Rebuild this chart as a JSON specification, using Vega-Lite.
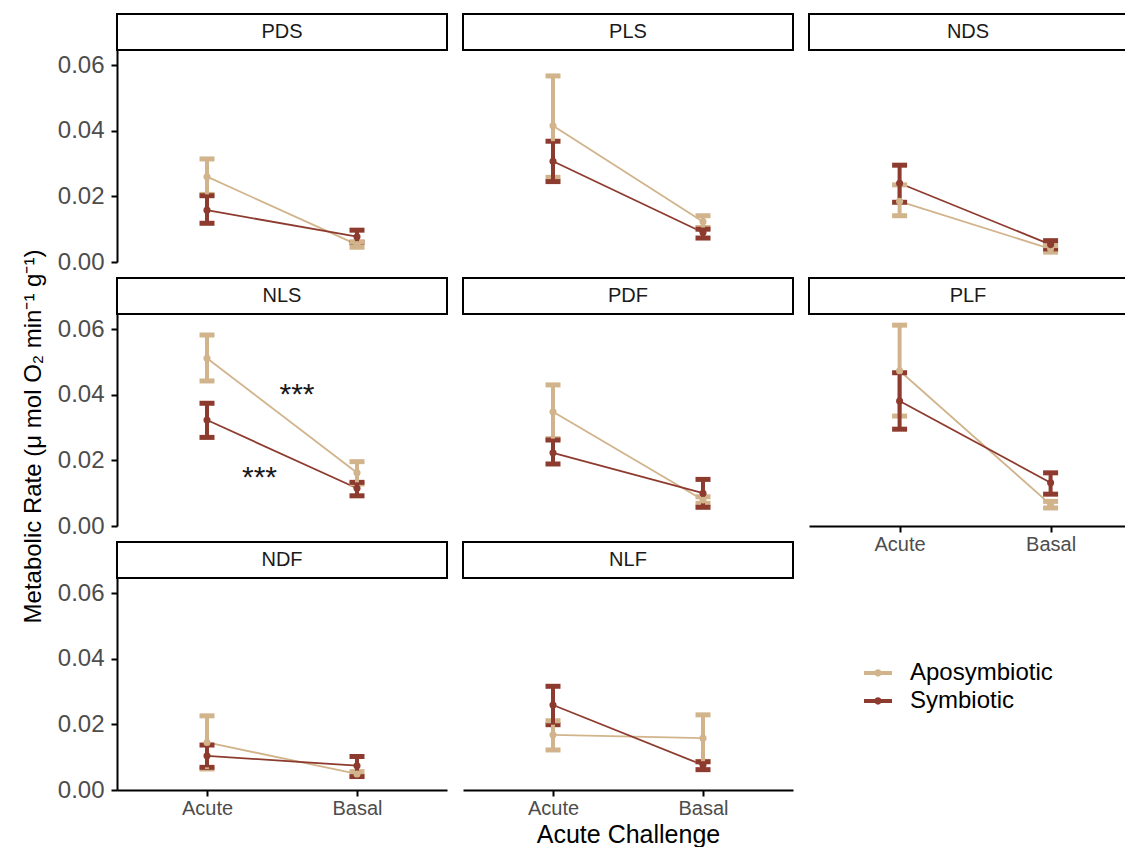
{
  "$schema": "https://vega.github.io/schema/vega-lite/v6.json",
  "padding": {"left": 21, "top": 13, "right": 0, "bottom": 0},
  "background": "white",
  "datasets": {
    "rates": [
      {"panel": "PDS", "group": "Aposymbiotic", "challenge": "Acute", "mean": 0.026, "lo": 0.0206, "hi": 0.0314},
      {"panel": "PDS", "group": "Aposymbiotic", "challenge": "Basal", "mean": 0.0053, "lo": 0.0045, "hi": 0.0061},
      {"panel": "PDS", "group": "Symbiotic", "challenge": "Acute", "mean": 0.0158, "lo": 0.0118, "hi": 0.0202},
      {"panel": "PDS", "group": "Symbiotic", "challenge": "Basal", "mean": 0.0077, "lo": 0.006, "hi": 0.0097},
      {"panel": "PLS", "group": "Aposymbiotic", "challenge": "Acute", "mean": 0.0415, "lo": 0.0258, "hi": 0.0567},
      {"panel": "PLS", "group": "Aposymbiotic", "challenge": "Basal", "mean": 0.0123, "lo": 0.0105, "hi": 0.0141},
      {"panel": "PLS", "group": "Symbiotic", "challenge": "Acute", "mean": 0.0307, "lo": 0.0245, "hi": 0.0368},
      {"panel": "PLS", "group": "Symbiotic", "challenge": "Basal", "mean": 0.009, "lo": 0.0073, "hi": 0.01},
      {"panel": "NDS", "group": "Aposymbiotic", "challenge": "Acute", "mean": 0.0185, "lo": 0.0141, "hi": 0.0235},
      {"panel": "NDS", "group": "Aposymbiotic", "challenge": "Basal", "mean": 0.004, "lo": 0.003, "hi": 0.005},
      {"panel": "NDS", "group": "Symbiotic", "challenge": "Acute", "mean": 0.024, "lo": 0.0182, "hi": 0.0295},
      {"panel": "NDS", "group": "Symbiotic", "challenge": "Basal", "mean": 0.0053, "lo": 0.004, "hi": 0.0065},
      {"panel": "NLS", "group": "Aposymbiotic", "challenge": "Acute", "mean": 0.0511, "lo": 0.0442, "hi": 0.0582},
      {"panel": "NLS", "group": "Aposymbiotic", "challenge": "Basal", "mean": 0.0162, "lo": 0.0128, "hi": 0.0196},
      {"panel": "NLS", "group": "Symbiotic", "challenge": "Acute", "mean": 0.0323, "lo": 0.027, "hi": 0.0374},
      {"panel": "NLS", "group": "Symbiotic", "challenge": "Basal", "mean": 0.0115, "lo": 0.0092, "hi": 0.0133},
      {"panel": "PDF", "group": "Aposymbiotic", "challenge": "Acute", "mean": 0.0348, "lo": 0.0266, "hi": 0.043},
      {"panel": "PDF", "group": "Aposymbiotic", "challenge": "Basal", "mean": 0.0079, "lo": 0.0069, "hi": 0.0089},
      {"panel": "PDF", "group": "Symbiotic", "challenge": "Acute", "mean": 0.0223, "lo": 0.0189, "hi": 0.0262},
      {"panel": "PDF", "group": "Symbiotic", "challenge": "Basal", "mean": 0.01, "lo": 0.0057, "hi": 0.0142},
      {"panel": "PLF", "group": "Aposymbiotic", "challenge": "Acute", "mean": 0.0473, "lo": 0.0335, "hi": 0.0612},
      {"panel": "PLF", "group": "Aposymbiotic", "challenge": "Basal", "mean": 0.0065, "lo": 0.0055, "hi": 0.0075},
      {"panel": "PLF", "group": "Symbiotic", "challenge": "Acute", "mean": 0.0381, "lo": 0.0295, "hi": 0.0467},
      {"panel": "PLF", "group": "Symbiotic", "challenge": "Basal", "mean": 0.0132, "lo": 0.0097, "hi": 0.0162},
      {"panel": "NDF", "group": "Aposymbiotic", "challenge": "Acute", "mean": 0.0145, "lo": 0.0064, "hi": 0.0226},
      {"panel": "NDF", "group": "Aposymbiotic", "challenge": "Basal", "mean": 0.0049, "lo": 0.0042, "hi": 0.0056},
      {"panel": "NDF", "group": "Symbiotic", "challenge": "Acute", "mean": 0.0104, "lo": 0.0069, "hi": 0.0137},
      {"panel": "NDF", "group": "Symbiotic", "challenge": "Basal", "mean": 0.0074, "lo": 0.0041, "hi": 0.0102},
      {"panel": "NLF", "group": "Aposymbiotic", "challenge": "Acute", "mean": 0.0168, "lo": 0.0122, "hi": 0.0211},
      {"panel": "NLF", "group": "Aposymbiotic", "challenge": "Basal", "mean": 0.0158, "lo": 0.0087, "hi": 0.0229},
      {"panel": "NLF", "group": "Symbiotic", "challenge": "Acute", "mean": 0.0259, "lo": 0.0199, "hi": 0.0316},
      {"panel": "NLF", "group": "Symbiotic", "challenge": "Basal", "mean": 0.0076, "lo": 0.0062, "hi": 0.0086}
    ],
    "strips": [
      {"panel": "PDS"}, {"panel": "PLS"}, {"panel": "NDS"},
      {"panel": "NLS"}, {"panel": "PDF"}, {"panel": "PLF"},
      {"panel": "NDF"}, {"panel": "NLF"}
    ],
    "notes": [
      {"panel": "NLS", "nx": 1.6, "ny": 0.0399, "label": "***"},
      {"panel": "NLS", "nx": 1.35, "ny": 0.0147, "label": "***"}
    ],
    "blank": []
  },
  "hconcat": [
    {
      "vconcat": [
        {"width": 330, "height": 36, "data": {"name": "strips"}, "transform": [{"filter": "datum.panel === 'PDS'"}], "view": {"stroke": "black", "strokeWidth": 2, "fill": "white"}, "mark": {"type": "text", "fontSize": 20, "color": "#1a1a1a"}, "encoding": {"text": {"field": "panel"}}},
        {"width": 330, "height": 212, "data": {"name": "rates"},
         "transform": [{"filter": "datum.panel === 'PDS'"}, {"calculate": "datum.challenge === 'Acute' ? 1 : 2", "as": "cx"}],
         "encoding": {"x": {"field": "cx", "type": "quantitative", "scale": {"domain": [0.4, 2.6], "nice": false}, "axis": null}},
         "layer": [
           {"mark": {"type": "line", "strokeWidth": 1.8}, "encoding": {"y": {"field": "mean", "type": "quantitative", "scale": {"domain": [0, 0.0646], "nice": false}, "axis": {"values": [0, 0.02, 0.04, 0.06], "format": ".2f", "title": null}}, "color": {"field": "group", "type": "nominal", "scale": {"domain": ["Aposymbiotic", "Symbiotic"], "range": ["#D2B48C", "#8E3B2F"]}, "legend": {"title": null, "encode": {"symbols": {"update": {"fill": {"scale": "color", "field": "value"}, "stroke": {"scale": "color", "field": "value"}, "strokeWidth": {"value": 0}}}}}}}},
           {"mark": {"type": "errorbar", "orient": "vertical", "thickness": 4, "opacity": 1, "ticks": {"size": 15, "thickness": 5, "opacity": 1}}, "encoding": {"y": {"field": "lo", "type": "quantitative", "scale": {"domain": [0, 0.0646], "nice": false}, "axis": {"values": [0, 0.02, 0.04, 0.06], "format": ".2f", "title": null}}, "y2": {"field": "hi"}, "color": {"field": "group", "type": "nominal", "legend": {"title": null, "encode": {"symbols": {"update": {"fill": {"scale": "color", "field": "value"}, "stroke": {"scale": "color", "field": "value"}, "strokeWidth": {"value": 0}}}}}}}},
           {"mark": {"type": "point", "filled": true, "size": 50, "opacity": 1}, "encoding": {"y": {"field": "mean", "type": "quantitative", "scale": {"domain": [0, 0.0646], "nice": false}, "axis": {"values": [0, 0.02, 0.04, 0.06], "format": ".2f", "title": null}}, "color": {"field": "group", "type": "nominal", "legend": {"title": null, "encode": {"symbols": {"update": {"fill": {"scale": "color", "field": "value"}, "stroke": {"scale": "color", "field": "value"}, "strokeWidth": {"value": 0}}}}}}}}
         ]},
        {"width": 330, "height": 16, "data": {"name": "blank"}, "mark": "point"},
        {"width": 330, "height": 36, "data": {"name": "strips"}, "transform": [{"filter": "datum.panel === 'NLS'"}], "view": {"stroke": "black", "strokeWidth": 2, "fill": "white"}, "mark": {"type": "text", "fontSize": 20, "color": "#1a1a1a"}, "encoding": {"text": {"field": "panel"}}},
        {"width": 330, "height": 212,
         "layer": [
           {"data": {"name": "rates"}, "transform": [{"filter": "datum.panel === 'NLS'"}, {"calculate": "datum.challenge === 'Acute' ? 1 : 2", "as": "cx"}],
            "mark": {"type": "line", "strokeWidth": 1.8}, "encoding": {"x": {"field": "cx", "type": "quantitative", "scale": {"domain": [0.4, 2.6], "nice": false}, "axis": null}, "y": {"field": "mean", "type": "quantitative", "scale": {"domain": [0, 0.0646], "nice": false}, "axis": {"values": [0, 0.02, 0.04, 0.06], "format": ".2f", "title": "Metabolic Rate (μ mol O₂ min⁻¹ g⁻¹)", "titleY": 122}}, "color": {"field": "group", "type": "nominal", "legend": {"title": null, "encode": {"symbols": {"update": {"fill": {"scale": "color", "field": "value"}, "stroke": {"scale": "color", "field": "value"}, "strokeWidth": {"value": 0}}}}}}}},
           {"data": {"name": "rates"}, "transform": [{"filter": "datum.panel === 'NLS'"}, {"calculate": "datum.challenge === 'Acute' ? 1 : 2", "as": "cx"}],
            "mark": {"type": "errorbar", "orient": "vertical", "thickness": 4, "opacity": 1, "ticks": {"size": 15, "thickness": 5, "opacity": 1}}, "encoding": {"x": {"field": "cx", "type": "quantitative", "scale": {"domain": [0.4, 2.6], "nice": false}, "axis": null}, "y": {"field": "lo", "type": "quantitative", "scale": {"domain": [0, 0.0646], "nice": false}, "axis": {"values": [0, 0.02, 0.04, 0.06], "format": ".2f", "title": "Metabolic Rate (μ mol O₂ min⁻¹ g⁻¹)", "titleY": 122}}, "y2": {"field": "hi"}, "color": {"field": "group", "type": "nominal", "legend": {"title": null, "encode": {"symbols": {"update": {"fill": {"scale": "color", "field": "value"}, "stroke": {"scale": "color", "field": "value"}, "strokeWidth": {"value": 0}}}}}}}},
           {"data": {"name": "rates"}, "transform": [{"filter": "datum.panel === 'NLS'"}, {"calculate": "datum.challenge === 'Acute' ? 1 : 2", "as": "cx"}],
            "mark": {"type": "point", "filled": true, "size": 50, "opacity": 1}, "encoding": {"x": {"field": "cx", "type": "quantitative", "scale": {"domain": [0.4, 2.6], "nice": false}, "axis": null}, "y": {"field": "mean", "type": "quantitative", "scale": {"domain": [0, 0.0646], "nice": false}, "axis": {"values": [0, 0.02, 0.04, 0.06], "format": ".2f", "title": "Metabolic Rate (μ mol O₂ min⁻¹ g⁻¹)", "titleY": 122}}, "color": {"field": "group", "type": "nominal", "legend": {"title": null, "encode": {"symbols": {"update": {"fill": {"scale": "color", "field": "value"}, "stroke": {"scale": "color", "field": "value"}, "strokeWidth": {"value": 0}}}}}}}},
           {"data": {"name": "notes"},
            "mark": {"type": "text", "fontSize": 30, "baseline": "middle", "color": "#1a1a1a"}, "encoding": {"x": {"field": "nx", "type": "quantitative", "scale": {"domain": [0.4, 2.6], "nice": false}, "axis": null}, "y": {"field": "ny", "type": "quantitative", "scale": {"domain": [0, 0.0646], "nice": false}, "axis": {"values": [0, 0.02, 0.04, 0.06], "format": ".2f", "title": "Metabolic Rate (μ mol O₂ min⁻¹ g⁻¹)", "titleY": 122}}, "text": {"field": "label"}}}
         ]},
        {"width": 330, "height": 16, "data": {"name": "blank"}, "mark": "point"},
        {"width": 330, "height": 36, "data": {"name": "strips"}, "transform": [{"filter": "datum.panel === 'NDF'"}], "view": {"stroke": "black", "strokeWidth": 2, "fill": "white"}, "mark": {"type": "text", "fontSize": 20, "color": "#1a1a1a"}, "encoding": {"text": {"field": "panel"}}},
        {"width": 330, "height": 212, "data": {"name": "rates"},
         "transform": [{"filter": "datum.panel === 'NDF'"}, {"calculate": "datum.challenge === 'Acute' ? 1 : 2", "as": "cx"}],
         "encoding": {"x": {"field": "cx", "type": "quantitative", "scale": {"domain": [0.4, 2.6], "nice": false}, "axis": {"values": [1, 2], "labelExpr": "datum.value == 1 ? 'Acute' : 'Basal'", "title": null}}},
         "layer": [
           {"mark": {"type": "line", "strokeWidth": 1.8}, "encoding": {"y": {"field": "mean", "type": "quantitative", "scale": {"domain": [0, 0.0646], "nice": false}, "axis": {"values": [0, 0.02, 0.04, 0.06], "format": ".2f", "title": null}}, "color": {"field": "group", "type": "nominal", "legend": {"title": null, "encode": {"symbols": {"update": {"fill": {"scale": "color", "field": "value"}, "stroke": {"scale": "color", "field": "value"}, "strokeWidth": {"value": 0}}}}}}}},
           {"mark": {"type": "errorbar", "orient": "vertical", "thickness": 4, "opacity": 1, "ticks": {"size": 15, "thickness": 5, "opacity": 1}}, "encoding": {"y": {"field": "lo", "type": "quantitative", "scale": {"domain": [0, 0.0646], "nice": false}, "axis": {"values": [0, 0.02, 0.04, 0.06], "format": ".2f", "title": null}}, "y2": {"field": "hi"}, "color": {"field": "group", "type": "nominal", "legend": {"title": null, "encode": {"symbols": {"update": {"fill": {"scale": "color", "field": "value"}, "stroke": {"scale": "color", "field": "value"}, "strokeWidth": {"value": 0}}}}}}}},
           {"mark": {"type": "point", "filled": true, "size": 50, "opacity": 1}, "encoding": {"y": {"field": "mean", "type": "quantitative", "scale": {"domain": [0, 0.0646], "nice": false}, "axis": {"values": [0, 0.02, 0.04, 0.06], "format": ".2f", "title": null}}, "color": {"field": "group", "type": "nominal", "legend": {"title": null, "encode": {"symbols": {"update": {"fill": {"scale": "color", "field": "value"}, "stroke": {"scale": "color", "field": "value"}, "strokeWidth": {"value": 0}}}}}}}}
         ]}
      ],
      "spacing": 0, "bounds": "flush"
    },
    {
      "vconcat": [
        {"width": 330, "height": 36, "data": {"name": "strips"}, "transform": [{"filter": "datum.panel === 'PLS'"}], "view": {"stroke": "black", "strokeWidth": 2, "fill": "white"}, "mark": {"type": "text", "fontSize": 20, "color": "#1a1a1a"}, "encoding": {"text": {"field": "panel"}}},
        {"width": 330, "height": 212, "data": {"name": "rates"},
         "transform": [{"filter": "datum.panel === 'PLS'"}, {"calculate": "datum.challenge === 'Acute' ? 1 : 2", "as": "cx"}],
         "encoding": {"x": {"field": "cx", "type": "quantitative", "scale": {"domain": [0.4, 2.6], "nice": false}, "axis": null}},
         "layer": [
           {"mark": {"type": "line", "strokeWidth": 1.8}, "encoding": {"y": {"field": "mean", "type": "quantitative", "scale": {"domain": [0, 0.0646], "nice": false}, "axis": null}, "color": {"field": "group", "type": "nominal", "legend": {"title": null, "encode": {"symbols": {"update": {"fill": {"scale": "color", "field": "value"}, "stroke": {"scale": "color", "field": "value"}, "strokeWidth": {"value": 0}}}}}}}},
           {"mark": {"type": "errorbar", "orient": "vertical", "thickness": 4, "opacity": 1, "ticks": {"size": 15, "thickness": 5, "opacity": 1}}, "encoding": {"y": {"field": "lo", "type": "quantitative", "scale": {"domain": [0, 0.0646], "nice": false}, "axis": null}, "y2": {"field": "hi"}, "color": {"field": "group", "type": "nominal", "legend": {"title": null, "encode": {"symbols": {"update": {"fill": {"scale": "color", "field": "value"}, "stroke": {"scale": "color", "field": "value"}, "strokeWidth": {"value": 0}}}}}}}},
           {"mark": {"type": "point", "filled": true, "size": 50, "opacity": 1}, "encoding": {"y": {"field": "mean", "type": "quantitative", "scale": {"domain": [0, 0.0646], "nice": false}, "axis": null}, "color": {"field": "group", "type": "nominal", "legend": {"title": null, "encode": {"symbols": {"update": {"fill": {"scale": "color", "field": "value"}, "stroke": {"scale": "color", "field": "value"}, "strokeWidth": {"value": 0}}}}}}}}
         ]},
        {"width": 330, "height": 16, "data": {"name": "blank"}, "mark": "point"},
        {"width": 330, "height": 36, "data": {"name": "strips"}, "transform": [{"filter": "datum.panel === 'PDF'"}], "view": {"stroke": "black", "strokeWidth": 2, "fill": "white"}, "mark": {"type": "text", "fontSize": 20, "color": "#1a1a1a"}, "encoding": {"text": {"field": "panel"}}},
        {"width": 330, "height": 212, "data": {"name": "rates"},
         "transform": [{"filter": "datum.panel === 'PDF'"}, {"calculate": "datum.challenge === 'Acute' ? 1 : 2", "as": "cx"}],
         "encoding": {"x": {"field": "cx", "type": "quantitative", "scale": {"domain": [0.4, 2.6], "nice": false}, "axis": null}},
         "layer": [
           {"mark": {"type": "line", "strokeWidth": 1.8}, "encoding": {"y": {"field": "mean", "type": "quantitative", "scale": {"domain": [0, 0.0646], "nice": false}, "axis": null}, "color": {"field": "group", "type": "nominal", "legend": {"title": null, "encode": {"symbols": {"update": {"fill": {"scale": "color", "field": "value"}, "stroke": {"scale": "color", "field": "value"}, "strokeWidth": {"value": 0}}}}}}}},
           {"mark": {"type": "errorbar", "orient": "vertical", "thickness": 4, "opacity": 1, "ticks": {"size": 15, "thickness": 5, "opacity": 1}}, "encoding": {"y": {"field": "lo", "type": "quantitative", "scale": {"domain": [0, 0.0646], "nice": false}, "axis": null}, "y2": {"field": "hi"}, "color": {"field": "group", "type": "nominal", "legend": {"title": null, "encode": {"symbols": {"update": {"fill": {"scale": "color", "field": "value"}, "stroke": {"scale": "color", "field": "value"}, "strokeWidth": {"value": 0}}}}}}}},
           {"mark": {"type": "point", "filled": true, "size": 50, "opacity": 1}, "encoding": {"y": {"field": "mean", "type": "quantitative", "scale": {"domain": [0, 0.0646], "nice": false}, "axis": null}, "color": {"field": "group", "type": "nominal", "legend": {"title": null, "encode": {"symbols": {"update": {"fill": {"scale": "color", "field": "value"}, "stroke": {"scale": "color", "field": "value"}, "strokeWidth": {"value": 0}}}}}}}}
         ]},
        {"width": 330, "height": 16, "data": {"name": "blank"}, "mark": "point"},
        {"width": 330, "height": 36, "data": {"name": "strips"}, "transform": [{"filter": "datum.panel === 'NLF'"}], "view": {"stroke": "black", "strokeWidth": 2, "fill": "white"}, "mark": {"type": "text", "fontSize": 20, "color": "#1a1a1a"}, "encoding": {"text": {"field": "panel"}}},
        {"width": 330, "height": 212, "data": {"name": "rates"},
         "transform": [{"filter": "datum.panel === 'NLF'"}, {"calculate": "datum.challenge === 'Acute' ? 1 : 2", "as": "cx"}],
         "encoding": {"x": {"field": "cx", "type": "quantitative", "scale": {"domain": [0.4, 2.6], "nice": false}, "axis": {"values": [1, 2], "labelExpr": "datum.value == 1 ? 'Acute' : 'Basal'", "title": "Acute Challenge"}}},
         "layer": [
           {"mark": {"type": "line", "strokeWidth": 1.8}, "encoding": {"y": {"field": "mean", "type": "quantitative", "scale": {"domain": [0, 0.0646], "nice": false}, "axis": null}, "color": {"field": "group", "type": "nominal", "legend": {"title": null, "encode": {"symbols": {"update": {"fill": {"scale": "color", "field": "value"}, "stroke": {"scale": "color", "field": "value"}, "strokeWidth": {"value": 0}}}}}}}},
           {"mark": {"type": "errorbar", "orient": "vertical", "thickness": 4, "opacity": 1, "ticks": {"size": 15, "thickness": 5, "opacity": 1}}, "encoding": {"y": {"field": "lo", "type": "quantitative", "scale": {"domain": [0, 0.0646], "nice": false}, "axis": null}, "y2": {"field": "hi"}, "color": {"field": "group", "type": "nominal", "legend": {"title": null, "encode": {"symbols": {"update": {"fill": {"scale": "color", "field": "value"}, "stroke": {"scale": "color", "field": "value"}, "strokeWidth": {"value": 0}}}}}}}},
           {"mark": {"type": "point", "filled": true, "size": 50, "opacity": 1}, "encoding": {"y": {"field": "mean", "type": "quantitative", "scale": {"domain": [0, 0.0646], "nice": false}, "axis": null}, "color": {"field": "group", "type": "nominal", "legend": {"title": null, "encode": {"symbols": {"update": {"fill": {"scale": "color", "field": "value"}, "stroke": {"scale": "color", "field": "value"}, "strokeWidth": {"value": 0}}}}}}}}
         ]}
      ],
      "spacing": 0, "bounds": "flush"
    },
    {
      "vconcat": [
        {"width": 318, "height": 36, "data": {"name": "strips"}, "transform": [{"filter": "datum.panel === 'NDS'"}], "view": {"stroke": "black", "strokeWidth": 2, "fill": "white"}, "mark": {"type": "text", "fontSize": 20, "color": "#1a1a1a"}, "encoding": {"text": {"field": "panel"}}},
        {"width": 318, "height": 212, "data": {"name": "rates"},
         "transform": [{"filter": "datum.panel === 'NDS'"}, {"calculate": "datum.challenge === 'Acute' ? 1 : 2", "as": "cx"}],
         "encoding": {"x": {"field": "cx", "type": "quantitative", "scale": {"domain": [0.4, 2.506], "nice": false}, "axis": null}},
         "layer": [
           {"mark": {"type": "line", "strokeWidth": 1.8}, "encoding": {"y": {"field": "mean", "type": "quantitative", "scale": {"domain": [0, 0.0646], "nice": false}, "axis": null}, "color": {"field": "group", "type": "nominal", "legend": {"title": null, "encode": {"symbols": {"update": {"fill": {"scale": "color", "field": "value"}, "stroke": {"scale": "color", "field": "value"}, "strokeWidth": {"value": 0}}}}}}}},
           {"mark": {"type": "errorbar", "orient": "vertical", "thickness": 4, "opacity": 1, "ticks": {"size": 15, "thickness": 5, "opacity": 1}}, "encoding": {"y": {"field": "lo", "type": "quantitative", "scale": {"domain": [0, 0.0646], "nice": false}, "axis": null}, "y2": {"field": "hi"}, "color": {"field": "group", "type": "nominal", "legend": {"title": null, "encode": {"symbols": {"update": {"fill": {"scale": "color", "field": "value"}, "stroke": {"scale": "color", "field": "value"}, "strokeWidth": {"value": 0}}}}}}}},
           {"mark": {"type": "point", "filled": true, "size": 50, "opacity": 1}, "encoding": {"y": {"field": "mean", "type": "quantitative", "scale": {"domain": [0, 0.0646], "nice": false}, "axis": null}, "color": {"field": "group", "type": "nominal", "legend": {"title": null, "encode": {"symbols": {"update": {"fill": {"scale": "color", "field": "value"}, "stroke": {"scale": "color", "field": "value"}, "strokeWidth": {"value": 0}}}}}}}}
         ]},
        {"width": 318, "height": 16, "data": {"name": "blank"}, "mark": "point"},
        {"width": 318, "height": 36, "data": {"name": "strips"}, "transform": [{"filter": "datum.panel === 'PLF'"}], "view": {"stroke": "black", "strokeWidth": 2, "fill": "white"}, "mark": {"type": "text", "fontSize": 20, "color": "#1a1a1a"}, "encoding": {"text": {"field": "panel"}}},
        {"width": 318, "height": 212, "data": {"name": "rates"},
         "transform": [{"filter": "datum.panel === 'PLF'"}, {"calculate": "datum.challenge === 'Acute' ? 1 : 2", "as": "cx"}],
         "encoding": {"x": {"field": "cx", "type": "quantitative", "scale": {"domain": [0.4, 2.506], "nice": false}, "axis": {"values": [1, 2], "labelExpr": "datum.value == 1 ? 'Acute' : 'Basal'", "title": null}}},
         "layer": [
           {"mark": {"type": "line", "strokeWidth": 1.8}, "encoding": {"y": {"field": "mean", "type": "quantitative", "scale": {"domain": [0, 0.0646], "nice": false}, "axis": null}, "color": {"field": "group", "type": "nominal", "legend": {"title": null, "encode": {"symbols": {"update": {"fill": {"scale": "color", "field": "value"}, "stroke": {"scale": "color", "field": "value"}, "strokeWidth": {"value": 0}}}}}}}},
           {"mark": {"type": "errorbar", "orient": "vertical", "thickness": 4, "opacity": 1, "ticks": {"size": 15, "thickness": 5, "opacity": 1}}, "encoding": {"y": {"field": "lo", "type": "quantitative", "scale": {"domain": [0, 0.0646], "nice": false}, "axis": null}, "y2": {"field": "hi"}, "color": {"field": "group", "type": "nominal", "legend": {"title": null, "encode": {"symbols": {"update": {"fill": {"scale": "color", "field": "value"}, "stroke": {"scale": "color", "field": "value"}, "strokeWidth": {"value": 0}}}}}}}},
           {"mark": {"type": "point", "filled": true, "size": 50, "opacity": 1}, "encoding": {"y": {"field": "mean", "type": "quantitative", "scale": {"domain": [0, 0.0646], "nice": false}, "axis": null}, "color": {"field": "group", "type": "nominal", "legend": {"title": null, "encode": {"symbols": {"update": {"fill": {"scale": "color", "field": "value"}, "stroke": {"scale": "color", "field": "value"}, "strokeWidth": {"value": 0}}}}}}}}
         ]}
      ],
      "spacing": 0, "bounds": "flush"
    }
  ],
  "spacing": 14,
  "config": {
    "font": "Liberation Sans",
    "view": {"stroke": null},
    "axis": {"grid": false, "domainColor": "black", "domainWidth": 2, "tickColor": "black", "tickWidth": 2, "tickSize": 6, "labelColor": "#4d4d4d", "titleColor": "black", "titleFontWeight": "normal", "titleFont": "Liberation Sans", "labelFont": "Liberation Sans"},
    "axisY": {"labelFontSize": 24, "labelPadding": 7, "titleFontSize": 24, "titlePadding": 12},
    "axisX": {"labelFontSize": 20, "labelPadding": 2, "titleFontSize": 25, "titlePadding": 4},
    "legend": {"orient": "none", "legendX": 747, "legendY": 645, "padding": 0, "symbolType": "M-1,-0.14H1V0.14H-1Z M-0.26,0A0.26,0.26 0 1,1 0.26,0A0.26,0.26 0 1,1 -0.26,0Z", "symbolSize": 784, "symbolStrokeWidth": 0, "symbolOpacity": 1, "labelFontSize": 24, "labelColor": "black", "labelOffset": 18, "rowPadding": 2, "labelFont": "Liberation Sans"}
  }
}
